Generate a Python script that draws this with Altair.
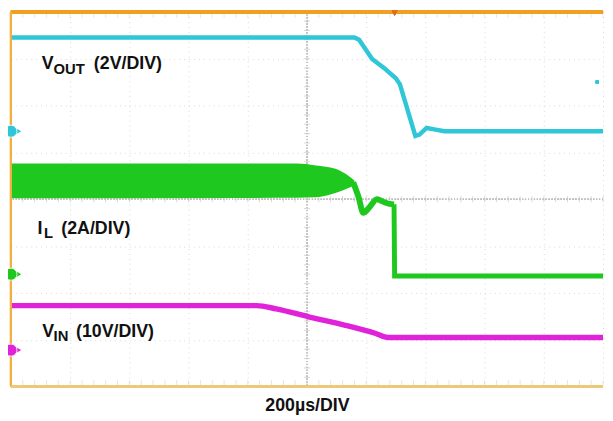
import altair as alt
import pandas as pd

# Time axis in divisions (200 us/DIV), vertical axis in divisions
vout_t = [0, 5.80, 5.88, 6.10, 6.30, 6.50, 6.57, 6.83, 6.90, 7.02, 7.15, 7.32, 10]
vout_v = [3.45, 3.45, 3.40, 2.99, 2.80, 2.58, 2.45, 1.35, 1.38, 1.52, 1.49, 1.45, 1.45]

il_band_t = [0, 4.82, 5.15, 5.48, 5.70, 5.80]
il_band_hi = [0.76, 0.76, 0.72, 0.65, 0.50, 0.40]
il_band_lo = [0.02, 0.03, 0.04, 0.13, 0.24, 0.30]

il_wave_t = [5.78, 5.87, 5.95, 6.05, 6.18, 6.30, 6.40, 6.47]
il_wave_v = [0.36, 0.05, -0.29, -0.18, 0.0, -0.06, -0.10, -0.11]

il_drop_t = [6.47, 6.48, 10]
il_drop_v = [-0.11, -1.64, -1.64]

vin_t = [0, 4.15, 4.48, 5.03, 5.65, 6.15, 6.37, 10]
vin_v = [-2.27, -2.27, -2.34, -2.51, -2.69, -2.86, -2.95, -2.95]

marker_y = [1.45, -1.60, -3.22]
marker_colors = ["#2fc6d8", "#1ec81e", "#e022d8"]

label_text = ["V", "OUT", "(2V/DIV)", "I", "L", "(2A/DIV)", "V", "IN", "(10V/DIV)"]
label_x = [0.52, 0.72, 1.40, 0.45, 0.56, 0.85, 0.53, 0.72, 1.10]
label_y = [2.78, 2.67, 2.78, -0.74, -0.83, -0.74, -2.93, -3.02, -2.93]
label_size = [18, 15, 18, 18, 15, 18, 18, 15, 18]

# minor graticule tick positions (5 per division) along the centre cross-hair
minor_x = [i / 5 for i in range(51)]
minor_y = [i / 5 - 4 for i in range(41)]

CYAN = "#2fc6d8"
GREEN = "#1ec81e"
MAGENTA = "#e022d8"

xs = alt.Scale(domain=[0, 10], nice=False, zero=False)
ys = alt.Scale(domain=[-4, 4], nice=False, zero=False)

xax = alt.Axis(values=list(range(11)), grid=True, labels=False, ticks=False, domain=False,
               gridColor="#d8d8d8", gridDash=[1, 4], gridWidth=1,
               title="200µs/DIV", titleFont="Liberation Sans", titleFontSize=18,
               titleFontWeight="bold", titleColor="#111111", titlePadding=10)
yax = alt.Axis(values=list(range(-4, 5)), grid=True, labels=False, ticks=False, domain=False,
               gridColor="#d8d8d8", gridDash=[1, 4], gridWidth=1, title=None)

vout_df = pd.DataFrame({"t": vout_t, "v": vout_v})
band_df = pd.DataFrame({"t": il_band_t, "hi": il_band_hi, "lo": il_band_lo})
wave_df = pd.DataFrame({"t": il_wave_t, "v": il_wave_v})
drop_df = pd.DataFrame({"t": il_drop_t, "v": il_drop_v})
vin_df = pd.DataFrame({"t": vin_t, "v": vin_v})
mk_df = pd.DataFrame({"mt": [0.0] * 3, "mv": marker_y, "mc": marker_colors})
lab_df = pd.DataFrame({"x": label_x, "y": label_y, "s": label_text, "fs": label_size})
mx_df = pd.DataFrame({"gx": minor_x})
my_df = pd.DataFrame({"gy": minor_y})

base_grid = alt.Chart(vout_df).mark_point(opacity=0).encode(
    x=alt.X("t:Q", scale=xs, axis=xax),
    y=alt.Y("v:Q", scale=ys, axis=yax),
)

center_v = alt.Chart(vout_df).mark_rule(color="#c4c4c4", strokeDash=[1, 2], strokeWidth=1).encode(x=alt.datum(5))
center_h = alt.Chart(vout_df).mark_rule(color="#c4c4c4", strokeDash=[1, 2], strokeWidth=1).encode(y=alt.datum(0))
ticks_h = alt.Chart(mx_df).mark_tick(orient="vertical", color="#c8c8c8", size=6, thickness=1).encode(
    x=alt.X("gx:Q", scale=xs), y=alt.datum(0)
)
ticks_v = alt.Chart(my_df).mark_tick(orient="horizontal", color="#c8c8c8", size=6, thickness=1).encode(
    y=alt.Y("gy:Q", scale=ys), x=alt.datum(5)
)
ticks_top = alt.Chart(mx_df).mark_tick(orient="vertical", color="#e0e0e0", size=5, thickness=1, yOffset=4).encode(
    x=alt.X("gx:Q", scale=xs), y=alt.datum(4)
)
ticks_bot = alt.Chart(mx_df).mark_tick(orient="vertical", color="#e0d8c0", size=5, thickness=1, yOffset=-4).encode(
    x=alt.X("gx:Q", scale=xs), y=alt.datum(-4)
)

band = alt.Chart(band_df).mark_area(color=GREEN, opacity=1, interpolate="monotone").encode(
    x=alt.X("t:Q", scale=xs), y=alt.Y("hi:Q", scale=ys), y2="lo:Q"
)
il_wave = alt.Chart(wave_df).mark_line(color=GREEN, strokeWidth=6, interpolate="monotone").encode(
    x=alt.X("t:Q", scale=xs), y=alt.Y("v:Q", scale=ys)
)
il_drop = alt.Chart(drop_df).mark_line(color=GREEN, strokeWidth=5).encode(
    x=alt.X("t:Q", scale=xs), y=alt.Y("v:Q", scale=ys)
)
vout_line = alt.Chart(vout_df).mark_line(color=CYAN, strokeWidth=4.5).encode(
    x=alt.X("t:Q", scale=xs), y=alt.Y("v:Q", scale=ys)
)
vin_line = alt.Chart(vin_df).mark_line(color=MAGENTA, strokeWidth=5.5, interpolate="monotone").encode(
    x=alt.X("t:Q", scale=xs), y=alt.Y("v:Q", scale=ys)
)

border_top = alt.Chart(vout_df).mark_rule(color="#f0a020", strokeWidth=3).encode(y=alt.datum(4))
border_left = alt.Chart(vout_df).mark_rule(color="#f0b040", strokeWidth=2).encode(x=alt.datum(0))
border_bot = alt.Chart(vout_df).mark_rule(color="#ecc878", strokeWidth=2).encode(y=alt.datum(-4))

arrows = alt.Chart(mk_df).mark_point(filled=True, size=30, shape="triangle-right", xOffset=8, opacity=1).encode(
    x=alt.X("mt:Q", scale=xs), y=alt.Y("mv:Q", scale=ys),
    fill=alt.Fill("mc:N", scale=None),
)
markers = alt.Chart(mk_df).mark_point(filled=True, shape="circle", size=150, opacity=1,
                                      stroke="white", strokeWidth=0.8).encode(
    x=alt.X("mt:Q", scale=xs), y=alt.Y("mv:Q", scale=ys),
    fill=alt.Fill("mc:N", scale=None),
)
trig = alt.Chart(vout_df).mark_point(filled=True, size=30, shape="triangle-down", color="#e07020", opacity=1).encode(
    x=alt.datum(6.48), y=alt.datum(3.97)
)
lvl = alt.Chart(vout_df).mark_point(filled=True, size=12, color=CYAN, opacity=1).encode(
    x=alt.datum(9.9), y=alt.datum(2.5)
)

labels = alt.Chart(lab_df).mark_text(align="left", baseline="alphabetic", font="Liberation Sans",
                                      fontWeight="bold", color="#111111").encode(
    x=alt.X("x:Q", scale=xs), y=alt.Y("y:Q", scale=ys), text="s:N",
    size=alt.Size("fs:Q", scale=None),
)

chart = alt.layer(
    base_grid, center_v, center_h, ticks_h, ticks_v, ticks_top, ticks_bot,
    band, il_wave, il_drop, vout_line, vin_line,
    border_top, border_left, border_bot, trig, lvl, labels, arrows, markers
).properties(
    width=600, height=380,
    padding={"left": 3, "top": 1, "right": 2, "bottom": 30},
    autosize=alt.AutoSizeParams(type="none"),
    background="white",
).configure_view(stroke=None)

chart.save("out.html", embed_options={"renderer": "svg", "actions": False})
